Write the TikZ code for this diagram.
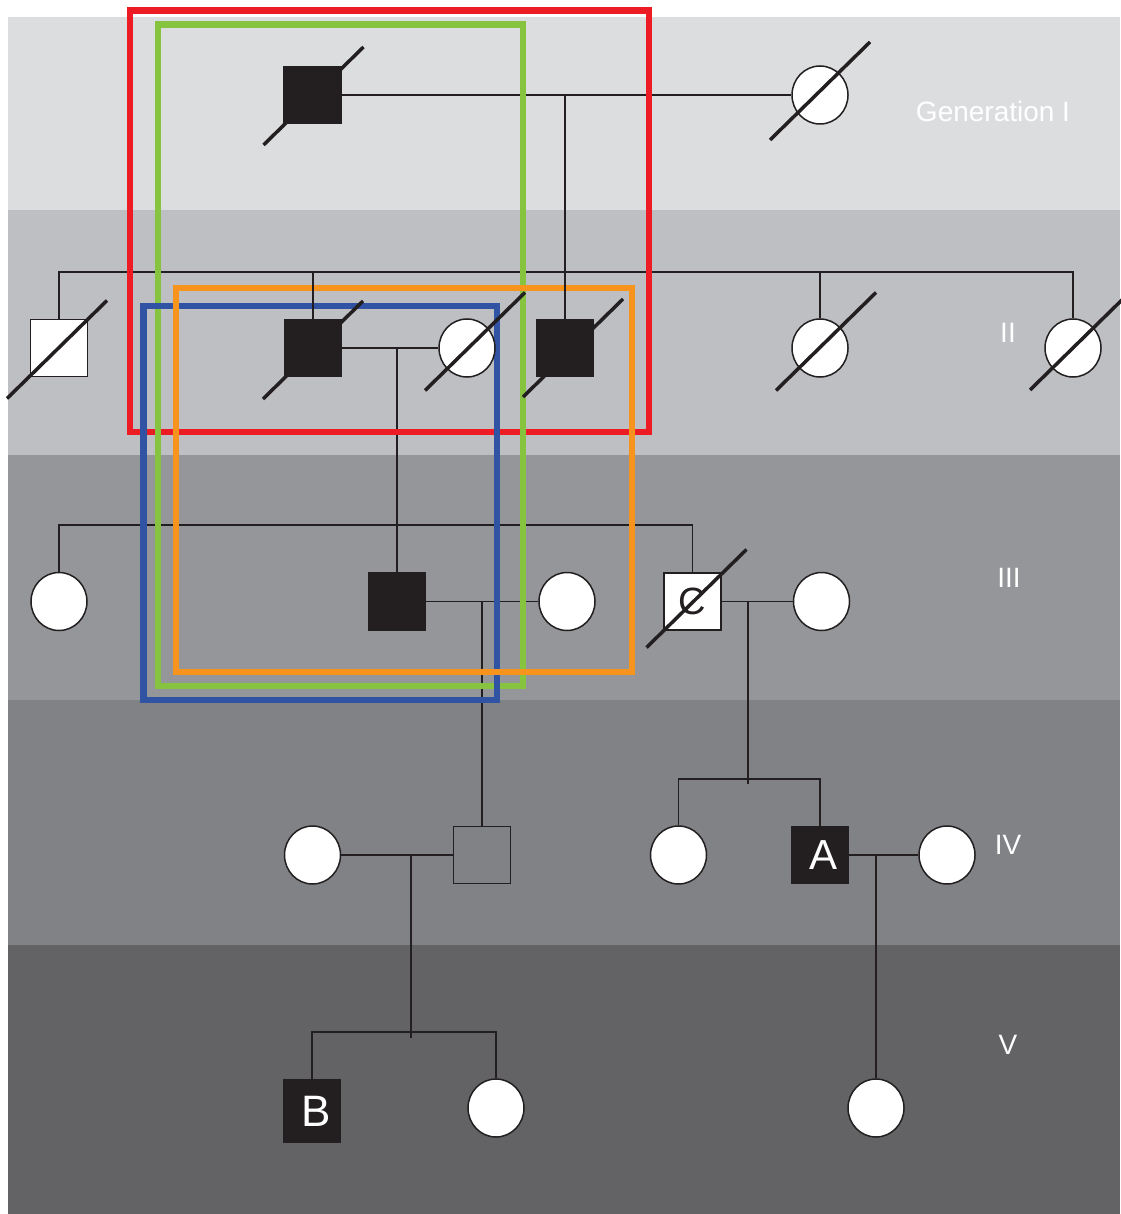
\documentclass[tikz,border=0pt]{standalone}
\usepackage{fontspec}
\setmainfont{Liberation Sans}
\usetikzlibrary{shapes.geometric,positioning}

\definecolor{ink}{HTML}{231F20}
\definecolor{bandI}{HTML}{DCDDDF}
\definecolor{bandII}{HTML}{BEBFC3}
\definecolor{bandIII}{HTML}{959699}
\definecolor{bandIV}{HTML}{818286}
\definecolor{bandV}{HTML}{636365}
\definecolor{hlred}{HTML}{ED1C24}
\definecolor{hlgreen}{HTML}{86C440}
\definecolor{hlblue}{HTML}{3153A4}
\definecolor{hlorange}{HTML}{F7941D}

\pgfdeclarelayer{background}
\pgfsetlayers{background,main}

\begin{document}
\begin{tikzpicture}[x=1pt, y=-1pt,
    male/.style={draw=ink, line width=1.5pt, fill=white, minimum size=57pt, inner sep=0pt},
    affm/.style={male, fill=ink, text=white},
    female/.style={ellipse, draw=ink, line width=1.5pt, fill=white, minimum width=56pt, minimum height=58pt, inner sep=0pt},
    line/.style={draw=ink, line width=1.6pt},
    slash/.style={draw=ink, line width=3.5pt},
    frame/.style={line width=6.5pt},
    gen/.style={text=white, font=\fontsize{28}{30}\selectfont},
    letter/.style={font=\fontsize{42}{44}\selectfont}
  ]
    \useasboundingbox (0,0) rectangle (1120,1214);

    % generation I
    \node[affm] (iM) at (312.5,95) {};
    \node[female] (iF) at (820,95) {};
    % generation II
    \node[male] (iiA) at (59,348) {};
    \node[affm] (iiM) at (313,348) {};
    \node[female,right=96pt of iiM] (iiW) {};
    \node[affm] (iiB) at (565,348) {};
    \node[female] (iiC) at (820,348) {};
    \node[female] (iiD) at (1073,348) {};
    % generation III
    \node[female] (iiiA) at (59,601.5) {};
    \node[affm] (iiiM) at (397,601.5) {};
    \node[female,right=112pt of iiiM] (iiiW) {};
    \node[male,letter,text=ink,font=\fontsize{38}{40}\selectfont] (iiiC) at (692.5,601.5) {C};
    \node[female,right=71pt of iiiC] (iiiX) {};
    % generation IV
    \node[female] (ivW) at (312.5,855) {};
    \node[male,fill=none] (ivM) at (482,855) {};
    \node[female] (ivF) at (678.5,855) {};
    \node[affm,letter] (ivA) at (820,855) {\raisebox{-4pt}{\hspace*{6pt}A}};
    \node[female,right=69pt of ivA] (ivX) {};
    % generation V
    \node[affm,letter,minimum height=63pt,font=\fontsize{44}{46}\selectfont] (vB) at (312,1111) {\raisebox{-3pt}{\hspace*{8pt}B}};
    \node[female] (vF) at (496,1108) {};
    \node[female] (vG) at (876,1108) {};

    % generation labels
    \node[gen] (lI) at (993,111) {Generation I};
    \node[gen] (lII) at (1008,333) {II};
    \node[gen] (lIII) at (1009,578) {III};
    \node[gen] (lIV) at (1008,845) {IV};
    \node[gen] (lV) at (1008,1045) {V};

    \coordinate (sib2) at (0,272);
    \coordinate (sib3) at (0,525);
    \coordinate (sib4) at (0,779);
    \coordinate (sib5) at (0,1032);
    \coordinate (m1) at (565,95);
    \coordinate (m2) at (397,348);
    \coordinate (m3) at (482,601.5);
    \coordinate (m3b) at (748,601.5);
    \coordinate (m4) at (411,855);
    \coordinate (m4b) at (876,855);

    \begin{pgfonlayer}{background}
      \fill[bandI] (8,17) rectangle (1120,210);
      \fill[bandII] (8,210) rectangle (1120,455);
      \fill[bandIII] (8,455) rectangle (1120,700);
      \fill[bandIV] (8,700) rectangle (1120,945);
      \fill[bandV] (8,945) rectangle (1120,1214);

      \draw[line] (iM) -- (iF);
      \draw[line] (iiA.north) |- (sib2 -| iiD) -- (iiD.north);
      \draw[line] (iiC.north) -- (iiC.north |- sib2);
      \draw[line] (iiM) -- (iiW);
      \draw[line] (m2) -- (iiiM.north);
      \draw[line] (iiiA.north) |- (sib3 -| iiiC) -- (iiiC.north);
      \draw[line] (iiiM) -- (iiiW);
      \draw[line] (m3) -- (ivM.north);
      \draw[line] (iiiC) -- (iiiX);
      \draw[line] (m3b) -- ([yshift=-5pt]m3b |- sib4);
      \draw[line] (ivF.north) |- (sib4 -| ivA) -- (ivA.north);
      \draw[line] (ivW) -- (ivM);
      \draw[line] (m4) -- ([yshift=-6pt]m4 |- sib5);
      \draw[line] (vB.north) |- (sib5 -| vF) -- (vF.north);
      \draw[line] (ivA) -- (ivX);
      \draw[line] (m4b) -- (vG.north);

      % highlighted groups
      \draw[frame,hlred] (130,10.5) rectangle (649,432);
      \draw[frame,hlgreen] (158,24.5) rectangle (523,686);
      \draw[frame,hlblue] (143.5,306) rectangle (497,700);
      \draw[frame,hlorange] (176,288) rectangle (632,672);

      \draw[line] (iiM.north) -- (iiM.north |- sib2);
      \draw[line] (m1) -- (iiB.north);
    \end{pgfonlayer}

    % deceased
    \foreach \n/\dx/\dy in {iM/1/1, iF/0/-4, iiA/-2/1.5, iiM/0/2, iiW/8/-6.5, iiB/8/0, iiC/6/-6.5, iiD/7/-7, iiiC/4/-3}
      \draw[slash] ([shift={(\dx-50,\dy+49)}]\n.center) -- ([shift={(\dx+50,\dy-49)}]\n.center);
  \end{tikzpicture}
\end{document}
